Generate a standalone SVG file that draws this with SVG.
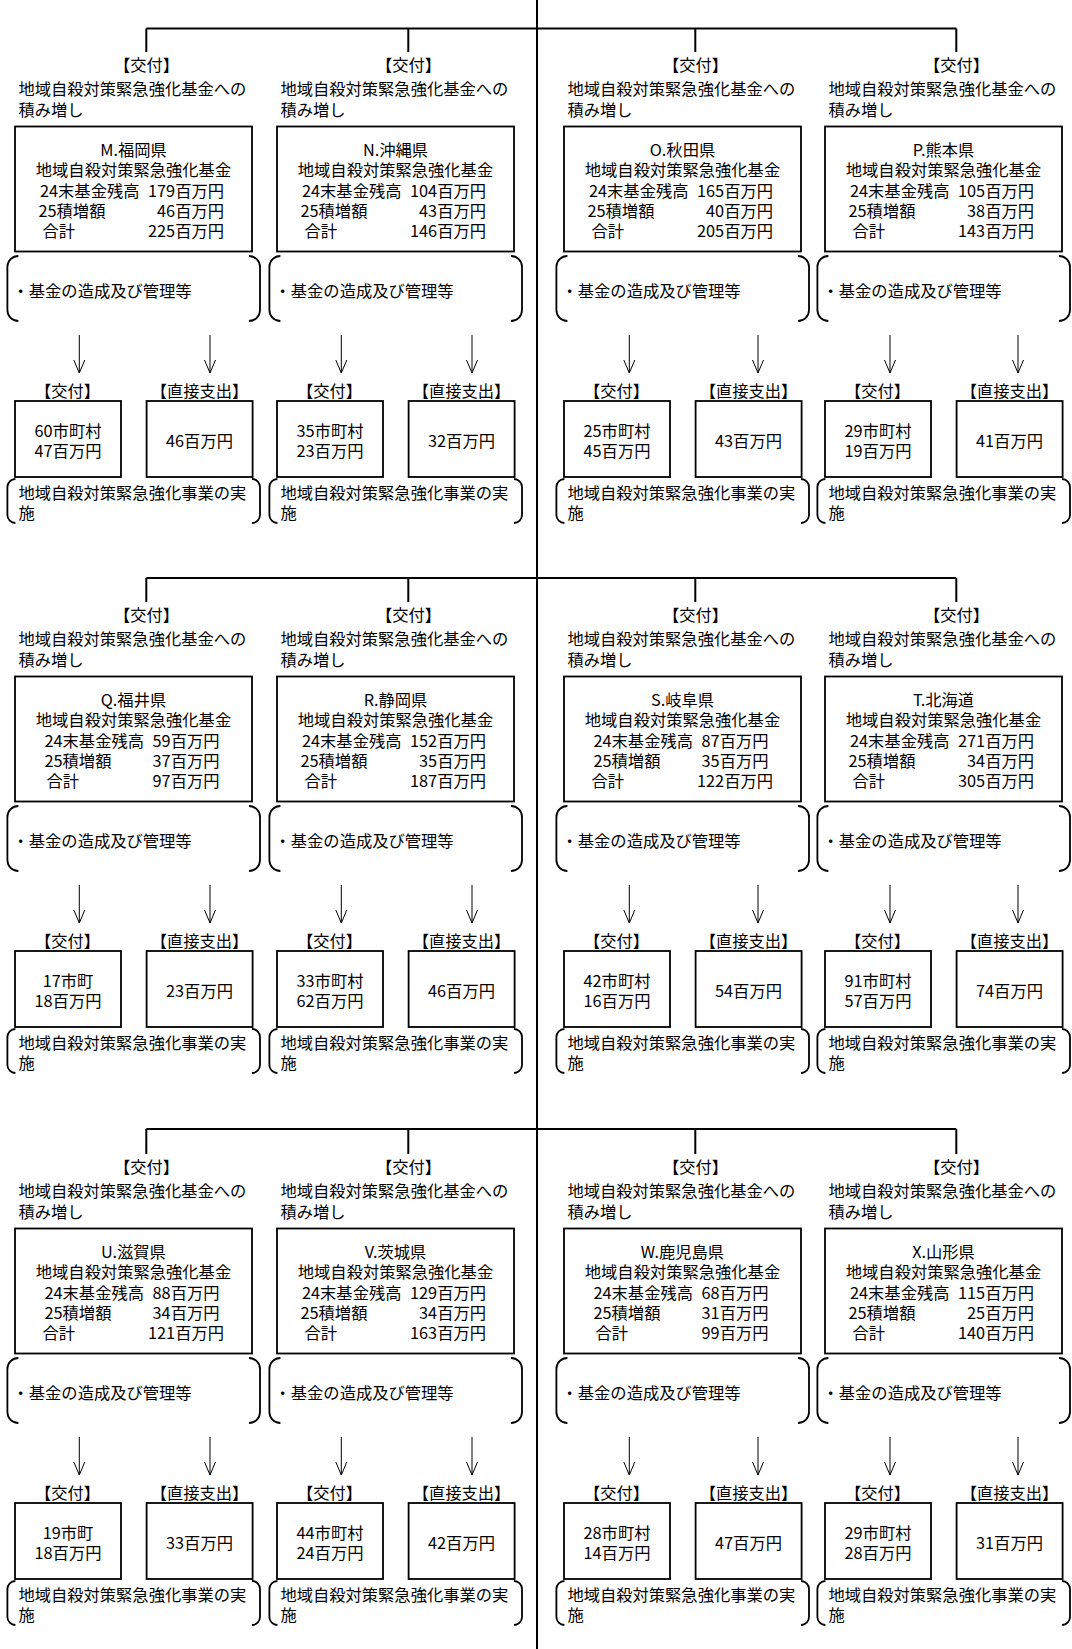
<svg xmlns="http://www.w3.org/2000/svg" xmlns:xlink="http://www.w3.org/1999/xlink" width="1072" height="1649" viewBox="0 0 1072 1649">
<style>
.t{font-family:"Noto Sans CJK JP","Noto Sans CJK SC",sans-serif;font-size:16.3px;fill:#000;dominant-baseline:central}
.c{text-anchor:middle}
.e{text-anchor:end}
.box{fill:#fff;stroke:#000;stroke-width:1.8}
.br{fill:none;stroke:#000;stroke-width:1.8}
.ln{fill:none;stroke:#000;stroke-width:2}
.ar{fill:none;stroke:#000;stroke-width:1;marker-end:url(#arr)}
</style>
<defs>
<marker id="arr" markerUnits="userSpaceOnUse" markerWidth="16" markerHeight="14" viewBox="0 0 16 14" refX="14" refY="7" orient="auto">
<path d="M1,1.5 L14,7 L1,12.5" fill="none" stroke="#000" stroke-width="1"/>
</marker>
<path id="brTop" d="M18.4,256 A11,11 0 0 0 7.4,267 L7.4,310 A11,11 0 0 0 18.4,321 M249,256 A11,11 0 0 1 260,267 L260,310 A11,11 0 0 1 249,321"/>
<path id="brBot" d="M15.4,479 A8,8 0 0 0 7.4,487 L7.4,515 A8,8 0 0 0 15.4,523 M252,479 A8,8 0 0 1 260,487 L260,515 A8,8 0 0 1 252,523"/>
</defs>
<rect width="1072" height="1649" fill="#fff"/>

<g id="connectors">
<path class="ln" d="M537,0 V1649"/>
<path class="ln" d="M146.3,28.5 H956.3 M146.3,28.5 V52 M408.3,28.5 V52 M695.3,28.5 V52 M956.3,28.5 V52"/>
<path class="ln" d="M146.3,578 H956.3 M146.3,578 V602 M408.3,578 V602 M695.3,578 V602 M956.3,578 V602"/>
<path class="ln" d="M146.3,1129 H956.3 M146.3,1129 V1154 M408.3,1129 V1154 M695.3,1129 V1154 M956.3,1129 V1154"/>
<path class="ar" d="M79.3,335 V373"/><path class="ar" d="M210,335 V373"/>
<path class="ar" d="M341.3,335 V373"/><path class="ar" d="M472,335 V373"/>
<path class="ar" d="M629.3,335 V373"/><path class="ar" d="M758,335 V373"/>
<path class="ar" d="M890,335 V373"/><path class="ar" d="M1018,335 V373"/>
<path class="ar" d="M79.3,885 V923"/><path class="ar" d="M210,885 V923"/>
<path class="ar" d="M341.3,885 V923"/><path class="ar" d="M472,885 V923"/>
<path class="ar" d="M629.3,885 V923"/><path class="ar" d="M758,885 V923"/>
<path class="ar" d="M890,885 V923"/><path class="ar" d="M1018,885 V923"/>
<path class="ar" d="M79.3,1437 V1475"/><path class="ar" d="M210,1437 V1475"/>
<path class="ar" d="M341.3,1437 V1475"/><path class="ar" d="M472,1437 V1475"/>
<path class="ar" d="M629.3,1437 V1475"/><path class="ar" d="M758,1437 V1475"/>
<path class="ar" d="M890,1437 V1475"/><path class="ar" d="M1018,1437 V1475"/>
</g>

<!-- Panel M -->
<g id="M" transform="translate(0,0)">
<g id="M-grant"><text class="t c" x="146.5" y="63.5">【交付】</text><text class="t" x="18.4" y="88">地域自殺対策緊急強化基金への</text><text class="t" x="18.4" y="108.5">積み増し</text></g>
<g id="M-fund"><rect class="box" x="15" y="126.5" width="237" height="125"/><text class="t c" x="133.5" y="149">M.福岡県</text><text class="t c" x="133.5" y="169">地域自殺対策緊急強化基金</text>
<text class="t" x="40" y="189.5">24末基金残高</text><text class="t e" x="224" y="189.5">179百万円</text>
<text class="t" x="38.5" y="209.5">25積増額</text><text class="t e" x="224" y="209.5">46百万円</text>
<text class="t" x="42.5" y="229.5">合計</text><text class="t e" x="224" y="229.5">225百万円</text></g>
<g id="M-admin"><use href="#brTop" class="br"/><text class="t" x="12.5" y="289.5">・基金の造成及び管理等</text></g>
<g id="M-muni"><text class="t c" x="67.5" y="390">【交付】</text><rect class="box" x="15" y="401" width="106" height="76"/><text class="t c" x="68" y="430">60市町村</text><text class="t c" x="68" y="450">47百万円</text></g>
<g id="M-direct"><text class="t c" x="199.5" y="390">【直接支出】</text><rect class="box" x="146.6" y="401" width="106" height="76"/><text class="t c" x="199.5" y="440">46百万円</text></g>
<g id="M-impl"><use href="#brBot" class="br"/><text class="t" x="18.4" y="492">地域自殺対策緊急強化事業の実</text><text class="t" x="18.4" y="512">施</text></g>
</g>

<!-- Panel N -->
<g id="N" transform="translate(262,0)">
<g id="N-grant"><text class="t c" x="146.5" y="63.5">【交付】</text><text class="t" x="18.4" y="88">地域自殺対策緊急強化基金への</text><text class="t" x="18.4" y="108.5">積み増し</text></g>
<g id="N-fund"><rect class="box" x="15" y="126.5" width="237" height="125"/><text class="t c" x="133.5" y="149">N.沖縄県</text><text class="t c" x="133.5" y="169">地域自殺対策緊急強化基金</text>
<text class="t" x="40" y="189.5">24末基金残高</text><text class="t e" x="224" y="189.5">104百万円</text>
<text class="t" x="38.5" y="209.5">25積増額</text><text class="t e" x="224" y="209.5">43百万円</text>
<text class="t" x="42.5" y="229.5">合計</text><text class="t e" x="224" y="229.5">146百万円</text></g>
<g id="N-admin"><use href="#brTop" class="br"/><text class="t" x="12.5" y="289.5">・基金の造成及び管理等</text></g>
<g id="N-muni"><text class="t c" x="67.5" y="390">【交付】</text><rect class="box" x="15" y="401" width="106" height="76"/><text class="t c" x="68" y="430">35市町村</text><text class="t c" x="68" y="450">23百万円</text></g>
<g id="N-direct"><text class="t c" x="199.5" y="390">【直接支出】</text><rect class="box" x="146.6" y="401" width="106" height="76"/><text class="t c" x="199.5" y="440">32百万円</text></g>
<g id="N-impl"><use href="#brBot" class="br"/><text class="t" x="18.4" y="492">地域自殺対策緊急強化事業の実</text><text class="t" x="18.4" y="512">施</text></g>
</g>

<!-- Panel O -->
<g id="O" transform="translate(549,0)">
<g id="O-grant"><text class="t c" x="146.5" y="63.5">【交付】</text><text class="t" x="18.4" y="88">地域自殺対策緊急強化基金への</text><text class="t" x="18.4" y="108.5">積み増し</text></g>
<g id="O-fund"><rect class="box" x="15" y="126.5" width="237" height="125"/><text class="t c" x="133.5" y="149">O.秋田県</text><text class="t c" x="133.5" y="169">地域自殺対策緊急強化基金</text>
<text class="t" x="40" y="189.5">24末基金残高</text><text class="t e" x="224" y="189.5">165百万円</text>
<text class="t" x="38.5" y="209.5">25積増額</text><text class="t e" x="224" y="209.5">40百万円</text>
<text class="t" x="42.5" y="229.5">合計</text><text class="t e" x="224" y="229.5">205百万円</text></g>
<g id="O-admin"><use href="#brTop" class="br"/><text class="t" x="12.5" y="289.5">・基金の造成及び管理等</text></g>
<g id="O-muni"><text class="t c" x="67.5" y="390">【交付】</text><rect class="box" x="15" y="401" width="106" height="76"/><text class="t c" x="68" y="430">25市町村</text><text class="t c" x="68" y="450">45百万円</text></g>
<g id="O-direct"><text class="t c" x="199.5" y="390">【直接支出】</text><rect class="box" x="146.6" y="401" width="106" height="76"/><text class="t c" x="199.5" y="440">43百万円</text></g>
<g id="O-impl"><use href="#brBot" class="br"/><text class="t" x="18.4" y="492">地域自殺対策緊急強化事業の実</text><text class="t" x="18.4" y="512">施</text></g>
</g>

<!-- Panel P -->
<g id="P" transform="translate(810,0)">
<g id="P-grant"><text class="t c" x="146.5" y="63.5">【交付】</text><text class="t" x="18.4" y="88">地域自殺対策緊急強化基金への</text><text class="t" x="18.4" y="108.5">積み増し</text></g>
<g id="P-fund"><rect class="box" x="15" y="126.5" width="237" height="125"/><text class="t c" x="133.5" y="149">P.熊本県</text><text class="t c" x="133.5" y="169">地域自殺対策緊急強化基金</text>
<text class="t" x="40" y="189.5">24末基金残高</text><text class="t e" x="224" y="189.5">105百万円</text>
<text class="t" x="38.5" y="209.5">25積増額</text><text class="t e" x="224" y="209.5">38百万円</text>
<text class="t" x="42.5" y="229.5">合計</text><text class="t e" x="224" y="229.5">143百万円</text></g>
<g id="P-admin"><use href="#brTop" class="br"/><text class="t" x="12.5" y="289.5">・基金の造成及び管理等</text></g>
<g id="P-muni"><text class="t c" x="67.5" y="390">【交付】</text><rect class="box" x="15" y="401" width="106" height="76"/><text class="t c" x="68" y="430">29市町村</text><text class="t c" x="68" y="450">19百万円</text></g>
<g id="P-direct"><text class="t c" x="199.5" y="390">【直接支出】</text><rect class="box" x="146.6" y="401" width="106" height="76"/><text class="t c" x="199.5" y="440">41百万円</text></g>
<g id="P-impl"><use href="#brBot" class="br"/><text class="t" x="18.4" y="492">地域自殺対策緊急強化事業の実</text><text class="t" x="18.4" y="512">施</text></g>
</g>

<!-- Panel Q -->
<g id="Q" transform="translate(0,550)">
<g id="Q-grant"><text class="t c" x="146.5" y="63.5">【交付】</text><text class="t" x="18.4" y="88">地域自殺対策緊急強化基金への</text><text class="t" x="18.4" y="108.5">積み増し</text></g>
<g id="Q-fund"><rect class="box" x="15" y="126.5" width="237" height="125"/><text class="t c" x="133.5" y="149">Q.福井県</text><text class="t c" x="133.5" y="169">地域自殺対策緊急強化基金</text>
<text class="t" x="44.5" y="189.5">24末基金残高</text><text class="t e" x="219.5" y="189.5">59百万円</text>
<text class="t" x="44.5" y="209.5">25積増額</text><text class="t e" x="219.5" y="209.5">37百万円</text>
<text class="t" x="46.5" y="229.5">合計</text><text class="t e" x="219.5" y="229.5">97百万円</text></g>
<g id="Q-admin"><use href="#brTop" class="br"/><text class="t" x="12.5" y="289.5">・基金の造成及び管理等</text></g>
<g id="Q-muni"><text class="t c" x="67.5" y="390">【交付】</text><rect class="box" x="15" y="401" width="106" height="76"/><text class="t c" x="68" y="430">17市町</text><text class="t c" x="68" y="450">18百万円</text></g>
<g id="Q-direct"><text class="t c" x="199.5" y="390">【直接支出】</text><rect class="box" x="146.6" y="401" width="106" height="76"/><text class="t c" x="199.5" y="440">23百万円</text></g>
<g id="Q-impl"><use href="#brBot" class="br"/><text class="t" x="18.4" y="492">地域自殺対策緊急強化事業の実</text><text class="t" x="18.4" y="512">施</text></g>
</g>

<!-- Panel R -->
<g id="R" transform="translate(262,550)">
<g id="R-grant"><text class="t c" x="146.5" y="63.5">【交付】</text><text class="t" x="18.4" y="88">地域自殺対策緊急強化基金への</text><text class="t" x="18.4" y="108.5">積み増し</text></g>
<g id="R-fund"><rect class="box" x="15" y="126.5" width="237" height="125"/><text class="t c" x="133.5" y="149">R.静岡県</text><text class="t c" x="133.5" y="169">地域自殺対策緊急強化基金</text>
<text class="t" x="40" y="189.5">24末基金残高</text><text class="t e" x="224" y="189.5">152百万円</text>
<text class="t" x="38.5" y="209.5">25積増額</text><text class="t e" x="224" y="209.5">35百万円</text>
<text class="t" x="42.5" y="229.5">合計</text><text class="t e" x="224" y="229.5">187百万円</text></g>
<g id="R-admin"><use href="#brTop" class="br"/><text class="t" x="12.5" y="289.5">・基金の造成及び管理等</text></g>
<g id="R-muni"><text class="t c" x="67.5" y="390">【交付】</text><rect class="box" x="15" y="401" width="106" height="76"/><text class="t c" x="68" y="430">33市町村</text><text class="t c" x="68" y="450">62百万円</text></g>
<g id="R-direct"><text class="t c" x="199.5" y="390">【直接支出】</text><rect class="box" x="146.6" y="401" width="106" height="76"/><text class="t c" x="199.5" y="440">46百万円</text></g>
<g id="R-impl"><use href="#brBot" class="br"/><text class="t" x="18.4" y="492">地域自殺対策緊急強化事業の実</text><text class="t" x="18.4" y="512">施</text></g>
</g>

<!-- Panel S -->
<g id="S" transform="translate(549,550)">
<g id="S-grant"><text class="t c" x="146.5" y="63.5">【交付】</text><text class="t" x="18.4" y="88">地域自殺対策緊急強化基金への</text><text class="t" x="18.4" y="108.5">積み増し</text></g>
<g id="S-fund"><rect class="box" x="15" y="126.5" width="237" height="125"/><text class="t c" x="133.5" y="149">S.岐阜県</text><text class="t c" x="133.5" y="169">地域自殺対策緊急強化基金</text>
<text class="t" x="44.5" y="189.5">24末基金残高</text><text class="t e" x="219.5" y="189.5">87百万円</text>
<text class="t" x="44.5" y="209.5">25積増額</text><text class="t e" x="219.5" y="209.5">35百万円</text>
<text class="t" x="42.5" y="229.5">合計</text><text class="t e" x="224" y="229.5">122百万円</text></g>
<g id="S-admin"><use href="#brTop" class="br"/><text class="t" x="12.5" y="289.5">・基金の造成及び管理等</text></g>
<g id="S-muni"><text class="t c" x="67.5" y="390">【交付】</text><rect class="box" x="15" y="401" width="106" height="76"/><text class="t c" x="68" y="430">42市町村</text><text class="t c" x="68" y="450">16百万円</text></g>
<g id="S-direct"><text class="t c" x="199.5" y="390">【直接支出】</text><rect class="box" x="146.6" y="401" width="106" height="76"/><text class="t c" x="199.5" y="440">54百万円</text></g>
<g id="S-impl"><use href="#brBot" class="br"/><text class="t" x="18.4" y="492">地域自殺対策緊急強化事業の実</text><text class="t" x="18.4" y="512">施</text></g>
</g>

<!-- Panel T -->
<g id="T" transform="translate(810,550)">
<g id="T-grant"><text class="t c" x="146.5" y="63.5">【交付】</text><text class="t" x="18.4" y="88">地域自殺対策緊急強化基金への</text><text class="t" x="18.4" y="108.5">積み増し</text></g>
<g id="T-fund"><rect class="box" x="15" y="126.5" width="237" height="125"/><text class="t c" x="133.5" y="149">T.北海道</text><text class="t c" x="133.5" y="169">地域自殺対策緊急強化基金</text>
<text class="t" x="40" y="189.5">24末基金残高</text><text class="t e" x="224" y="189.5">271百万円</text>
<text class="t" x="38.5" y="209.5">25積増額</text><text class="t e" x="224" y="209.5">34百万円</text>
<text class="t" x="42.5" y="229.5">合計</text><text class="t e" x="224" y="229.5">305百万円</text></g>
<g id="T-admin"><use href="#brTop" class="br"/><text class="t" x="12.5" y="289.5">・基金の造成及び管理等</text></g>
<g id="T-muni"><text class="t c" x="67.5" y="390">【交付】</text><rect class="box" x="15" y="401" width="106" height="76"/><text class="t c" x="68" y="430">91市町村</text><text class="t c" x="68" y="450">57百万円</text></g>
<g id="T-direct"><text class="t c" x="199.5" y="390">【直接支出】</text><rect class="box" x="146.6" y="401" width="106" height="76"/><text class="t c" x="199.5" y="440">74百万円</text></g>
<g id="T-impl"><use href="#brBot" class="br"/><text class="t" x="18.4" y="492">地域自殺対策緊急強化事業の実</text><text class="t" x="18.4" y="512">施</text></g>
</g>

<!-- Panel U -->
<g id="U" transform="translate(0,1102)">
<g id="U-grant"><text class="t c" x="146.5" y="63.5">【交付】</text><text class="t" x="18.4" y="88">地域自殺対策緊急強化基金への</text><text class="t" x="18.4" y="108.5">積み増し</text></g>
<g id="U-fund"><rect class="box" x="15" y="126.5" width="237" height="125"/><text class="t c" x="133.5" y="149">U.滋賀県</text><text class="t c" x="133.5" y="169">地域自殺対策緊急強化基金</text>
<text class="t" x="44.5" y="189.5">24末基金残高</text><text class="t e" x="219.5" y="189.5">88百万円</text>
<text class="t" x="44.5" y="209.5">25積増額</text><text class="t e" x="219.5" y="209.5">34百万円</text>
<text class="t" x="42.5" y="229.5">合計</text><text class="t e" x="224" y="229.5">121百万円</text></g>
<g id="U-admin"><use href="#brTop" class="br"/><text class="t" x="12.5" y="289.5">・基金の造成及び管理等</text></g>
<g id="U-muni"><text class="t c" x="67.5" y="390">【交付】</text><rect class="box" x="15" y="401" width="106" height="76"/><text class="t c" x="68" y="430">19市町</text><text class="t c" x="68" y="450">18百万円</text></g>
<g id="U-direct"><text class="t c" x="199.5" y="390">【直接支出】</text><rect class="box" x="146.6" y="401" width="106" height="76"/><text class="t c" x="199.5" y="440">33百万円</text></g>
<g id="U-impl"><use href="#brBot" class="br"/><text class="t" x="18.4" y="492">地域自殺対策緊急強化事業の実</text><text class="t" x="18.4" y="512">施</text></g>
</g>

<!-- Panel V -->
<g id="V" transform="translate(262,1102)">
<g id="V-grant"><text class="t c" x="146.5" y="63.5">【交付】</text><text class="t" x="18.4" y="88">地域自殺対策緊急強化基金への</text><text class="t" x="18.4" y="108.5">積み増し</text></g>
<g id="V-fund"><rect class="box" x="15" y="126.5" width="237" height="125"/><text class="t c" x="133.5" y="149">V.茨城県</text><text class="t c" x="133.5" y="169">地域自殺対策緊急強化基金</text>
<text class="t" x="40" y="189.5">24末基金残高</text><text class="t e" x="224" y="189.5">129百万円</text>
<text class="t" x="38.5" y="209.5">25積増額</text><text class="t e" x="224" y="209.5">34百万円</text>
<text class="t" x="42.5" y="229.5">合計</text><text class="t e" x="224" y="229.5">163百万円</text></g>
<g id="V-admin"><use href="#brTop" class="br"/><text class="t" x="12.5" y="289.5">・基金の造成及び管理等</text></g>
<g id="V-muni"><text class="t c" x="67.5" y="390">【交付】</text><rect class="box" x="15" y="401" width="106" height="76"/><text class="t c" x="68" y="430">44市町村</text><text class="t c" x="68" y="450">24百万円</text></g>
<g id="V-direct"><text class="t c" x="199.5" y="390">【直接支出】</text><rect class="box" x="146.6" y="401" width="106" height="76"/><text class="t c" x="199.5" y="440">42百万円</text></g>
<g id="V-impl"><use href="#brBot" class="br"/><text class="t" x="18.4" y="492">地域自殺対策緊急強化事業の実</text><text class="t" x="18.4" y="512">施</text></g>
</g>

<!-- Panel W -->
<g id="W" transform="translate(549,1102)">
<g id="W-grant"><text class="t c" x="146.5" y="63.5">【交付】</text><text class="t" x="18.4" y="88">地域自殺対策緊急強化基金への</text><text class="t" x="18.4" y="108.5">積み増し</text></g>
<g id="W-fund"><rect class="box" x="15" y="126.5" width="237" height="125"/><text class="t c" x="133.5" y="149">W.鹿児島県</text><text class="t c" x="133.5" y="169">地域自殺対策緊急強化基金</text>
<text class="t" x="44.5" y="189.5">24末基金残高</text><text class="t e" x="219.5" y="189.5">68百万円</text>
<text class="t" x="44.5" y="209.5">25積増額</text><text class="t e" x="219.5" y="209.5">31百万円</text>
<text class="t" x="46.5" y="229.5">合計</text><text class="t e" x="219.5" y="229.5">99百万円</text></g>
<g id="W-admin"><use href="#brTop" class="br"/><text class="t" x="12.5" y="289.5">・基金の造成及び管理等</text></g>
<g id="W-muni"><text class="t c" x="67.5" y="390">【交付】</text><rect class="box" x="15" y="401" width="106" height="76"/><text class="t c" x="68" y="430">28市町村</text><text class="t c" x="68" y="450">14百万円</text></g>
<g id="W-direct"><text class="t c" x="199.5" y="390">【直接支出】</text><rect class="box" x="146.6" y="401" width="106" height="76"/><text class="t c" x="199.5" y="440">47百万円</text></g>
<g id="W-impl"><use href="#brBot" class="br"/><text class="t" x="18.4" y="492">地域自殺対策緊急強化事業の実</text><text class="t" x="18.4" y="512">施</text></g>
</g>

<!-- Panel X -->
<g id="X" transform="translate(810,1102)">
<g id="X-grant"><text class="t c" x="146.5" y="63.5">【交付】</text><text class="t" x="18.4" y="88">地域自殺対策緊急強化基金への</text><text class="t" x="18.4" y="108.5">積み増し</text></g>
<g id="X-fund"><rect class="box" x="15" y="126.5" width="237" height="125"/><text class="t c" x="133.5" y="149">X.山形県</text><text class="t c" x="133.5" y="169">地域自殺対策緊急強化基金</text>
<text class="t" x="40" y="189.5">24末基金残高</text><text class="t e" x="224" y="189.5">115百万円</text>
<text class="t" x="38.5" y="209.5">25積増額</text><text class="t e" x="224" y="209.5">25百万円</text>
<text class="t" x="42.5" y="229.5">合計</text><text class="t e" x="224" y="229.5">140百万円</text></g>
<g id="X-admin"><use href="#brTop" class="br"/><text class="t" x="12.5" y="289.5">・基金の造成及び管理等</text></g>
<g id="X-muni"><text class="t c" x="67.5" y="390">【交付】</text><rect class="box" x="15" y="401" width="106" height="76"/><text class="t c" x="68" y="430">29市町村</text><text class="t c" x="68" y="450">28百万円</text></g>
<g id="X-direct"><text class="t c" x="199.5" y="390">【直接支出】</text><rect class="box" x="146.6" y="401" width="106" height="76"/><text class="t c" x="199.5" y="440">31百万円</text></g>
<g id="X-impl"><use href="#brBot" class="br"/><text class="t" x="18.4" y="492">地域自殺対策緊急強化事業の実</text><text class="t" x="18.4" y="512">施</text></g>
</g>
</svg>
